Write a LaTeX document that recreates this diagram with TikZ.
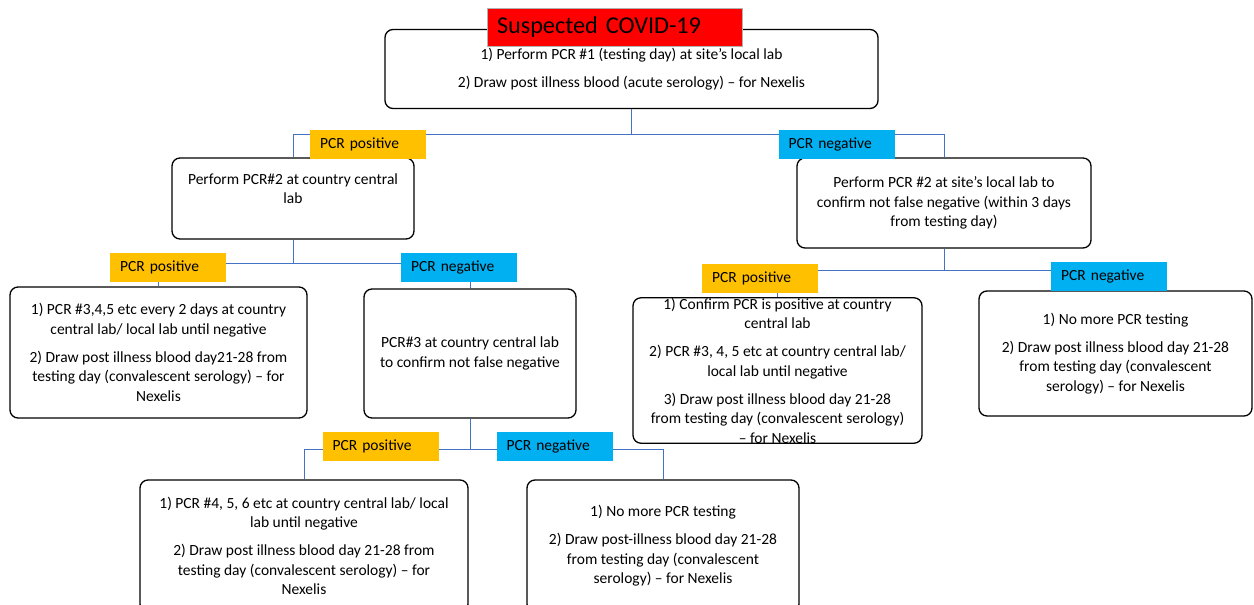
\documentclass[tikz,border=0pt]{standalone}
\usepackage{fontspec}
\setmainfont{Carlito}
\usepackage{tikz}
\usetikzlibrary{calc}
\definecolor{pcrpos}{HTML}{FFC000}
\definecolor{pcrneg}{HTML}{00B0F0}
\definecolor{linkblue}{HTML}{4472C4}
\newcommand{\boxfont}{\fontsize{15.5}{19.5}\selectfont}
\newcommand{\titlefont}{\fontsize{24.2}{27}\selectfont}
\newcommand{\gap}{\\[8.5pt]}
\begin{document}
\begin{tikzpicture}[x=1pt,y=-1pt,
	stepbox/.style={draw,rounded corners=8pt,line width=1.3pt,align=center,inner sep=0pt,font=\boxfont},
	link/.style={draw=linkblue,line width=1pt},
	tag/.style={inner xsep=10pt,inner ysep=0pt,minimum height=29pt,text width=96pt,align=left,font=\boxfont},
	postag/.style={tag,fill=pcrpos},
	negtag/.style={tag,fill=pcrneg}]
	\useasboundingbox (0,0) rectangle (1254,605);

	%boxes
	\node[stepbox,minimum width=493pt,minimum height=79pt] (start) at (631.5,69)
		{1) Perform PCR \#1 (testing day) at site’s local lab\gap 2) Draw post illness blood (acute serology) – for Nexelis};
	\node[stepbox,minimum width=242pt,minimum height=81pt] (centralB) at (293,198.5)
		{Perform PCR\#2 at country central\\lab\\~};
	\node[stepbox,minimum width=294pt,minimum height=90pt] (localB) at (944,203)
		{Perform PCR \#2 at site’s local lab to\\confirm not false negative (within 3 days\\from testing day)};
	\node[stepbox,minimum width=297pt,minimum height=131pt] (posPos) at (158.5,352.5)
		{1) PCR \#3,4,5 etc every 2 days at country\\central lab/ local lab until negative\gap 2) Draw post illness blood day21-28 from\\testing day (convalescent serology) – for\\Nexelis};
	\node[stepbox,minimum width=212pt,minimum height=129pt] (posNeg) at (470,353.5)
		{PCR\#3 at country central lab\\to confirm not false negative};
	\node[stepbox,minimum width=289pt,minimum height=145pt] (negPos) at (777.5,370.5)
		{1) Confirm PCR is positive at country\\central lab\gap 2) PCR \#3, 4, 5 etc at country central lab/\\local lab until negative\gap 3) Draw post illness blood day 21-28\\from testing day (convalescent serology)\\– for Nexelis};
	\node[stepbox,minimum width=273pt,minimum height=125pt] (negNeg) at (1115.5,353.5)
		{1) No more PCR testing\gap 2) Draw post illness blood day 21-28\\from testing day (convalescent\\serology) – for Nexelis};
	\node[stepbox,minimum width=328pt,minimum height=132pt] (thirdPos) at (304,546)
		{1) PCR \#4, 5, 6 etc at country central lab/ local\\lab until negative\gap 2) Draw post illness blood day 21-28 from\\testing day (convalescent serology) – for\\Nexelis};
	\node[stepbox,minimum width=272pt,minimum height=132pt] (thirdNeg) at (663,546)
		{1) No more PCR testing\gap 2) Draw post-illness blood day 21-28\\from testing day (convalescent\\serology) – for Nexelis};

	%title
	\node[fill=red,draw=gray!60,line width=1pt,minimum width=255pt,minimum height=38pt,inner xsep=10pt,
		text width=235pt,align=left,font=\titlefont] (title) at (614.5,27) {Suspected COVID-19};

	%connectors
	\draw[link] (start.south) -- ++(0,25) coordinate (j1);
	\draw[link] (j1) -| (centralB.north);
	\draw[link] (j1) -| (localB.north);
	%
	\draw[link] (centralB.south) -- ++(0,24) coordinate (j2);
	\draw[link] (j2) -| (posPos.north);
	\draw[link] (j2) -| (posNeg.north);
	%
	\draw[link] (localB.south) -- ++(0,22) coordinate (j3);
	\draw[link] (j3) -| (negPos.north);
	\draw[link] (j3) -| (negNeg.north);
	%
	\draw[link] (posNeg.south) -- ++(0,31) coordinate (j4);
	\draw[link] (j4) -| (thirdPos.north);
	\draw[link] (j4) -| (thirdNeg.north);

	%result tags
	\node[postag] (tagPos1) at (368,144.5) {PCR positive};
	\node[negtag] (tagNeg1) at (836.5,144.5) {PCR negative};
	\node[postag] (tagPos2) at (168,267) {PCR positive};
	\node[negtag] (tagNeg2) at (459,267) {PCR negative};
	\node[postag] (tagPos3) at (760,278) {PCR positive};
	\node[negtag] (tagNeg3) at (1109,276) {PCR negative};
	\node[postag] (tagPos4) at (380.5,446.5) {PCR positive};
	\node[negtag] (tagNeg4) at (554.5,446.5) {PCR negative};
\end{tikzpicture}
\end{document}
